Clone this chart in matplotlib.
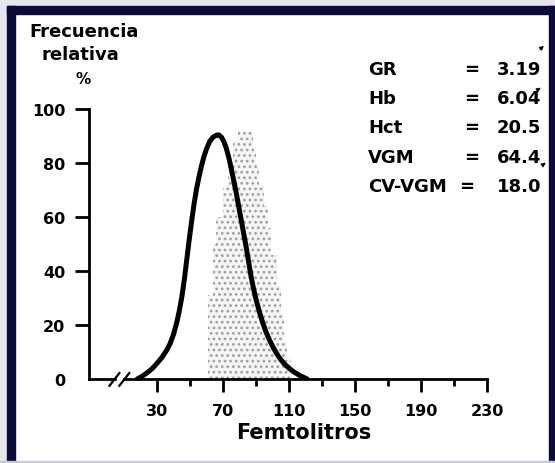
import matplotlib

matplotlib.use("Agg")
import matplotlib.pyplot as plt
from matplotlib.patches import Rectangle
from matplotlib.transforms import blended_transform_factory

W, H = 555, 464

# RBC volume curve (fL, relative frequency %)
curve_x = [18, 21, 24, 27, 30, 33, 36, 38, 40, 42, 43.5, 45, 46.5, 48, 49.5,
           51, 52.5, 54, 55.5, 57, 58.5, 60, 62, 64, 66, 67.5, 69, 70.5, 72,
           73.5, 75, 76.5, 78, 79.5, 81, 82.5, 84, 85.5, 87, 88.5, 90, 92, 94,
           96, 98.5, 101, 104, 107, 110, 113, 116.5, 121]
curve_y = [0, 1, 2.3, 3.8, 5.8, 8, 10.8, 13.2, 16.5, 21, 25.2, 30.2, 36.5, 44, 51.5,
           58.5, 65, 70.5, 75, 79, 82.5, 85.2, 88, 89.6, 90.3, 90.4, 89.6, 88, 85.5,
           82, 78, 73.5, 69, 64, 59, 54, 49, 43.5, 38, 33.5, 29.5, 25, 21,
           17.5, 14, 11, 8, 5.7, 4, 2.6, 1.3, 0]

# normal reference distribution (stippled steps)
ref_edges = [61, 64, 66, 70, 73, 76, 79, 88, 90, 92, 95, 97, 99, 103, 105, 107, 109, 111]
ref_heights = [31, 50, 60, 72, 80, 88, 92, 86, 80, 72, 64, 56, 46, 35, 24, 14, 8]

x_major = [30, 70, 110, 150, 190, 230]
x_minor = [50, 90, 130, 170, 210]
y_ticks = [0, 20, 40, 60, 80, 100]

param_names = ["GR", "Hb", "Hct", "VGM", "CV-VGM"]
param_values = ["3.19", "6.04", "20.5", "64.4", "18.0"]

plt.rcParams["font.family"] = ["DejaVu Sans"]
plt.rcParams["font.weight"] = "bold"
plt.rcParams["hatch.color"] = "#a0a0a0"
plt.rcParams["hatch.linewidth"] = 1.2

fig = plt.figure(figsize=(W / 100, H / 100), dpi=100)
fig.patch.set_facecolor("white")


def px(x, y):
    return x / W, 1 - y / H


# frame of the scanned picture
navy = "#0b0b3c"
fig.patches.append(Rectangle((0, 0), 7 / W, 1, transform=fig.transFigure, color="#e6e6ee", zorder=0))
fig.patches.append(Rectangle((0, 1 - 7 / H), 1, 7 / H, transform=fig.transFigure, color="#e6e6ee", zorder=0))
fig.patches.append(Rectangle((7 / W, 0), 8 / W, 1 - 7 / H, transform=fig.transFigure, color=navy, zorder=1))
fig.patches.append(Rectangle((7 / W, 1 - 15 / H), 1, 8 / H, transform=fig.transFigure, color=navy, zorder=1))
fig.patches.append(Rectangle((549 / W, 0), 6 / W, 1 - 7 / H, transform=fig.transFigure, color=navy, zorder=1))
fig.patches.append(Rectangle((0, 0), 1, 2 / H, transform=fig.transFigure, color="#c8c8d4", zorder=1))

l, b = px(89, 380)
r, t = px(487, 110)
ax = fig.add_axes([l, b, r - l, t - b])
ax.set_facecolor("none")

ax.fill_between(ref_edges, ref_heights + [ref_heights[-1]], step="post",
                facecolor="#f5f5f5", edgecolor="#a0a0a0", hatch="...", linewidth=0)
ax.plot(curve_x, curve_y, color="black", lw=3.6, solid_capstyle="round",
        solid_joinstyle="round", zorder=3)

x_left = 30 - (157 - 89) / 1.65
ax.set_xlim(x_left, 230)
ax.set_ylim(0, 100)

for s in ["top", "right"]:
    ax.spines[s].set_visible(False)
for s in ["left", "bottom"]:
    ax.spines[s].set_linewidth(2.0)

ax.set_xticks(x_major)
ax.set_xticks(x_minor, minor=True)
ax.set_yticks(y_ticks)
ax.tick_params(axis="x", which="major", direction="out", length=9, width=2,
               pad=8, labelsize=11.5)
ax.tick_params(axis="x", which="minor", direction="out", length=5, width=2)
ax.tick_params(axis="y", direction="out", length=10, width=2, pad=7, labelsize=11.5)
ax.yaxis.get_major_ticks()[0].tick1line.set_visible(False)
for lab in ax.get_xticklabels() + ax.get_yticklabels():
    lab.set_fontweight("bold")

ax.set_xlabel("Femtolitros", fontsize=15, fontweight="bold")
ax.xaxis.set_label_coords(0.54, -0.16)

# axis break
trans = blended_transform_factory(ax.transData, ax.transAxes)
ax.add_patch(Rectangle((5.5, -0.02), 3.5, 0.04, transform=trans, color="white",
                       zorder=5, clip_on=False))
for bx in [4.2, 10.2]:
    ax.plot([bx - 3, bx + 3], [-0.025, 0.022], transform=trans, color="black",
            lw=1.6, clip_on=False, zorder=6)

# y axis title
fig.text(*px(84, 32), "Frecuencia", ha="center", va="center", fontsize=13, fontweight="bold")
fig.text(*px(80, 55), "relativa", ha="center", va="center", fontsize=13, fontweight="bold")
fig.text(*px(83, 80), "%", ha="center", va="center", fontsize=11, fontweight="bold")

# blood parameters
for i, (name, val) in enumerate(zip(param_names, param_values)):
    y = 70 + i * 29.2
    fig.text(*px(368, y), name, ha="left", va="center", fontsize=13, fontweight="bold")
    fig.text(*px(472 if name != "CV-VGM" else 467, y), "=", ha="center", va="center",
             fontsize=13, fontweight="bold")
    fig.text(*px(497, y), val, ha="left", va="center", fontsize=13, fontweight="bold")

# small scan marks at the right edge
for (x0, y0), (x1, y1) in [((538, 52), (546, 45)), ((536, 92), (543, 87)), ((540, 168), (548, 162))]:
    ax.annotate("", xy=(x1, H - y1), xytext=(x0, H - y0), xycoords="figure pixels",
                textcoords="figure pixels",
                arrowprops=dict(arrowstyle="-|>", lw=0.8, color="black", mutation_scale=6))

fig.savefig("out.png", dpi=100)
